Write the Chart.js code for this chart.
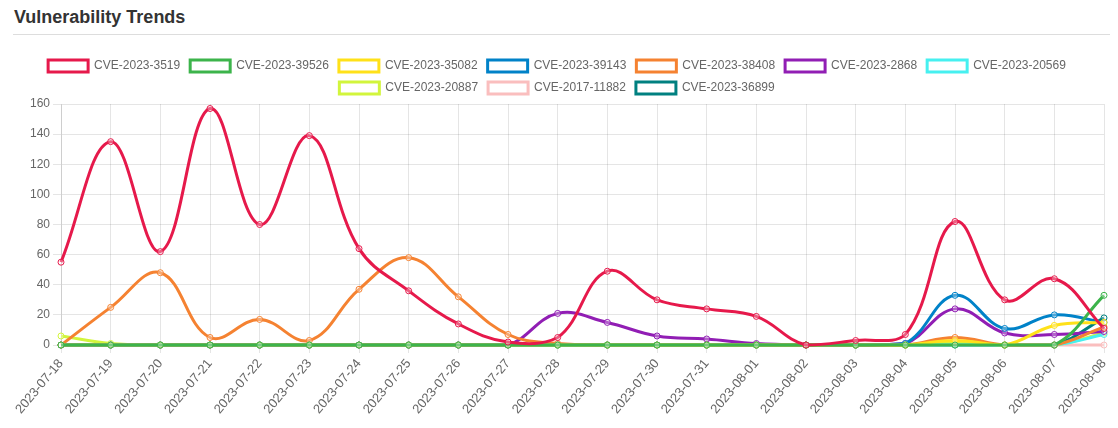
<!DOCTYPE html>
<html>
<head>
<meta charset="utf-8">
<script src="https://cdn.jsdelivr.net/npm/chart.js@4.4.0/dist/chart.umd.min.js"></script>
<style>
    body { margin: 0; background: #fff; font-family: 'Liberation Sans', Arial, sans-serif; overflow: hidden; }
    h3 { position: absolute; left: 14px; top: 7px; margin: 0; font-size: 18px; font-weight: bold; color: #333; }
    .rule { position: absolute; left: 13px; top: 34px; width: 1097px; border-top: 1px solid #ddd; }
    .wrap { position: absolute; left: 4px; top: 50px; width: 1106px; height: 370px; }
</style>
</head>
<body>
<h3>Vulnerability Trends</h3>
<div class="rule"></div>
<div class="wrap"><canvas id="trendChart"></canvas></div>
<script>
const dates = ['2023-07-18','2023-07-19','2023-07-20','2023-07-21','2023-07-22','2023-07-23','2023-07-24',
    '2023-07-25','2023-07-26','2023-07-27','2023-07-28','2023-07-29','2023-07-30','2023-07-31',
    '2023-08-01','2023-08-02','2023-08-03','2023-08-04','2023-08-05','2023-08-06','2023-08-07','2023-08-08'];

const cveNames = ['CVE-2023-3519','CVE-2023-39526','CVE-2023-35082','CVE-2023-39143','CVE-2023-38408',
    'CVE-2023-2868','CVE-2023-20569','CVE-2023-20887','CVE-2017-11882','CVE-2023-36899'];

const cveColors = ['#e6194b','#3cb44b','#ffe119','#0082c8','#f58231','#911eb4','#46f0f0','#d2f53c','#fabebe','#008080'];

// valores
const cve3519  = [55,135,62,157,80,139,64,36,14,2,5,49,30,24,19,0,3,7,82,30,44,11];
const cve39526 = [0,0,0,0,0,0,0,0,0,0,0,0,0,0,0,0,0,0,0,0,0,33];
const cve35082 = [0,0,0,0,0,0,0,0,0,0,0,0,0,0,0,0,0,0,3,0,13,15];
const cve39143 = [0,0,0,0,0,0,0,0,0,0,0,0,0,0,0,0,0,1,33,11,20,15];
const cve38408 = [0,25,48,5,17,3,37,58,32,7,1,0,0,0,0,0,0,0,5,0,0,12];
const cve2868  = [0,0,0,0,0,0,0,0,0,0,21,15,6,4,1,0,0,1,24,8,7,9];
const cve20569 = [0,0,0,0,0,0,0,0,0,0,0,0,0,0,0,0,0,0,0,0,0,7];
const cve20887 = [6,1,0,0,0,0,0,0,0,0,0,0,0,0,0,0,0,0,2,0,0,8];
const cve11882 = [0,0,0,0,0,0,0,0,0,0,0,0,0,0,0,0,0,0,0,0,0,0];
const cve36899 = [0,0,0,0,0,0,0,0,0,0,0,0,0,0,0,0,0,0,0,0,0,18];

const allSeries = [cve3519, cve39526, cve35082, cve39143, cve38408, cve2868, cve20569, cve20887, cve11882, cve36899];

window.onload = () => {
    const ctx = document.getElementById('trendChart').getContext('2d');
    new Chart(ctx, {
        type: 'line',
        data: {
            labels: dates,
            datasets: allSeries.map((vals, i) => ({
                label: cveNames[i],
                data: vals,
                borderColor: cveColors[i],
                backgroundColor: 'rgba(255,255,255,0)',
                pointBackgroundColor: 'rgba(255,255,255,0.3)',
                pointBorderColor: cveColors[i],
                pointBorderWidth: 1,
                pointRadius: 3,
                borderWidth: 3,
                tension: 0.4,
                fill: false
            }))
        },
        options: {
            responsive: true,
            maintainAspectRatio: false,
            animation: false,
            plugins: {
                legend: { labels: { color: '#666', font: { size: 12 } } }
            },
            scales: {
                y: { beginAtZero: true, max: 160, ticks: { stepSize: 20, color: '#666' } },
                x: {
                    ticks: { color: '#666', font: { size: 13 }, maxRotation: 50, minRotation: 50 },
                    // ajusta margens laterais da área do gráfico
                    afterFit: (scale) => { scale.paddingLeft = 57; scale.paddingRight = 6; }
                }
            }
        }
    });
};
</script>
</body>
</html>
